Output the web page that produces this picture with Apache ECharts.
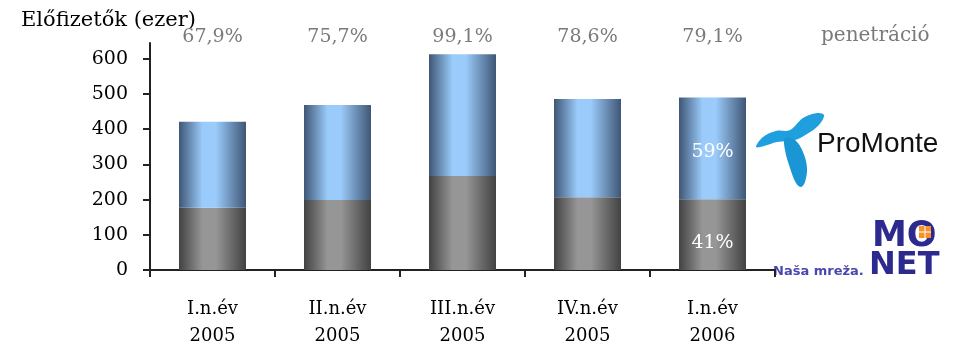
<!DOCTYPE html>
<html>
<head>
<meta charset="utf-8">
<script src="https://cdn.jsdelivr.net/npm/echarts@6/dist/echarts.min.js"></script>
<style>
  html, body { margin: 0; padding: 0; background: #fff; }
  #chart { width: 955px; height: 350px; }
</style>
</head>
<body>
<div id="chart"></div>
<script>
// Quarterly subscriber counts (thousands), split into two stacked segments
const categories = ['I.n.év\n2005', 'II.n.év\n2005', 'III.n.év\n2005', 'IV.n.év\n2005', 'I.n.év\n2006'];
const lowerValues = [177, 199, 267, 207, 201];
const upperValues = [244, 270, 346, 279, 289];
const penetration = ['67,9%', '75,7%', '99,1%', '78,6%', '79,1%'];
const lowerShare = ['', '', '', '', '41%'];
const upperShare = ['', '', '', '', '59%'];
const yTicks = [0, 100, 200, 300, 400, 500, 600];

const SERIF = '"DejaVu Serif", "Liberation Serif", serif';

function barGradient(edge, mid) {
  return new echarts.graphic.LinearGradient(0, 0, 1, 0, [
    { offset: 0, color: edge },
    { offset: 0.35, color: mid },
    { offset: 0.55, color: mid },
    { offset: 1, color: edge }
  ]);
}

function withLabels(values, labels, offsetY) {
  return values.map((v, i) => ({
    value: v,
    label: {
      show: labels[i] !== '',
      formatter: labels[i],
      position: 'inside',
      offset: [0, offsetY],
      color: '#fff',
      fontFamily: SERIF,
      fontSize: 19
    }
  }));
}

const chart = echarts.init(document.getElementById('chart'), null, { renderer: 'canvas' });

chart.setOption({
  animation: false,
  grid: { left: 150, right: 180, top: 43, bottom: 80 },
  xAxis: [
    {
      type: 'category',
      data: categories,
      axisLine: { lineStyle: { color: '#222', width: 2 } },
      axisTick: { show: true, length: 7, lineStyle: { color: '#222', width: 2 } },
      axisLabel: {
        color: '#000', fontFamily: SERIF, fontSize: 18,
        lineHeight: 27, margin: 26
      }
    },
    {
      type: 'category',
      position: 'top',
      data: penetration,
      axisLine: { show: false },
      axisTick: { show: false },
      axisLabel: {
        color: '#7a7a7a', fontFamily: SERIF, fontSize: 19,
        verticalAlign: 'middle', margin: 6
      }
    }
  ],
  yAxis: {
    type: 'value',
    min: 0,
    max: 645,
    interval: 100,
    splitLine: { show: false },
    axisLine: { show: true, lineStyle: { color: '#222', width: 2 } },
    axisTick: { show: true, length: 7, customValues: yTicks, lineStyle: { color: '#222', width: 2 } },
    axisLabel: {
      customValues: yTicks,
      color: '#000', fontFamily: SERIF, fontSize: 19, margin: 22
    }
  },
  series: [
    {
      type: 'bar',
      stack: 'subs',
      barWidth: 67,
      data: withLabels(lowerValues, lowerShare, 8),
      itemStyle: { color: barGradient('#424242', '#969696') }
    },
    {
      type: 'bar',
      stack: 'subs',
      barWidth: 67,
      data: withLabels(upperValues, upperShare, 4),
      itemStyle: { color: barGradient('#3f5675', '#9acbfa') }
    }
  ],
  graphic: [
    {
      type: 'text', left: 21, top: 10,
      style: { text: 'Előfizetők (ezer)', fill: '#000', font: '21px ' + SERIF }
    },
    {
      type: 'text', left: 821, top: 26,
      style: { text: 'penetráció', fill: '#7a7a7a', font: '20px ' + SERIF }
    },
    // ProMonte mark
    {
      type: 'group', x: 745, y: 100,
      children: [
        {
          type: 'polygon',
          shape: {
            points: [[11, 47], [18, 37], [31, 31], [45, 30], [58, 18], [72, 13], [79, 15],
                     [74, 25], [62, 34], [50, 40], [32, 42], [19, 46]],
            smooth: 0.35
          },
          style: { fill: '#1f9fdd' }
        },
        {
          type: 'polygon',
          shape: {
            points: [[40, 38], [50, 40], [58, 52], [62, 68], [60, 82], [56, 87], [51, 83], [45, 68], [40, 50]],
            smooth: 0.35
          },
          style: { fill: '#1b96d5' }
        }
      ]
    },
    {
      type: 'text', left: 817, top: 130,
      style: { text: 'ProMonte', fill: '#111', font: '28px "Liberation Sans", Arial, sans-serif' }
    },
    // MONET mark
    {
      type: 'text', left: 872, top: 219,
      style: { text: 'MO', fill: '#2c2a8e', font: 'bold 35px "DejaVu Sans", sans-serif' }
    },
    {
      type: 'rect', shape: { x: 919, y: 226, width: 12, height: 12 },
      style: { fill: '#f5922a' }
    },
    {
      type: 'line', shape: { x1: 925, y1: 226, x2: 925, y2: 238 },
      style: { stroke: '#fff', lineWidth: 1 }
    },
    {
      type: 'line', shape: { x1: 919, y1: 232, x2: 931, y2: 232 },
      style: { stroke: '#fff', lineWidth: 1 }
    },
    {
      type: 'text', left: 869, top: 250,
      style: { text: 'NET', fill: '#2c2a8e', font: 'bold 32px "DejaVu Sans", sans-serif' }
    },
    {
      type: 'text', left: 773, top: 265,
      style: { text: 'Naša mreža.', fill: '#4a48b0', font: 'bold 13px "DejaVu Sans", sans-serif' }
    }
  ]
});
</script>
</body>
</html>
